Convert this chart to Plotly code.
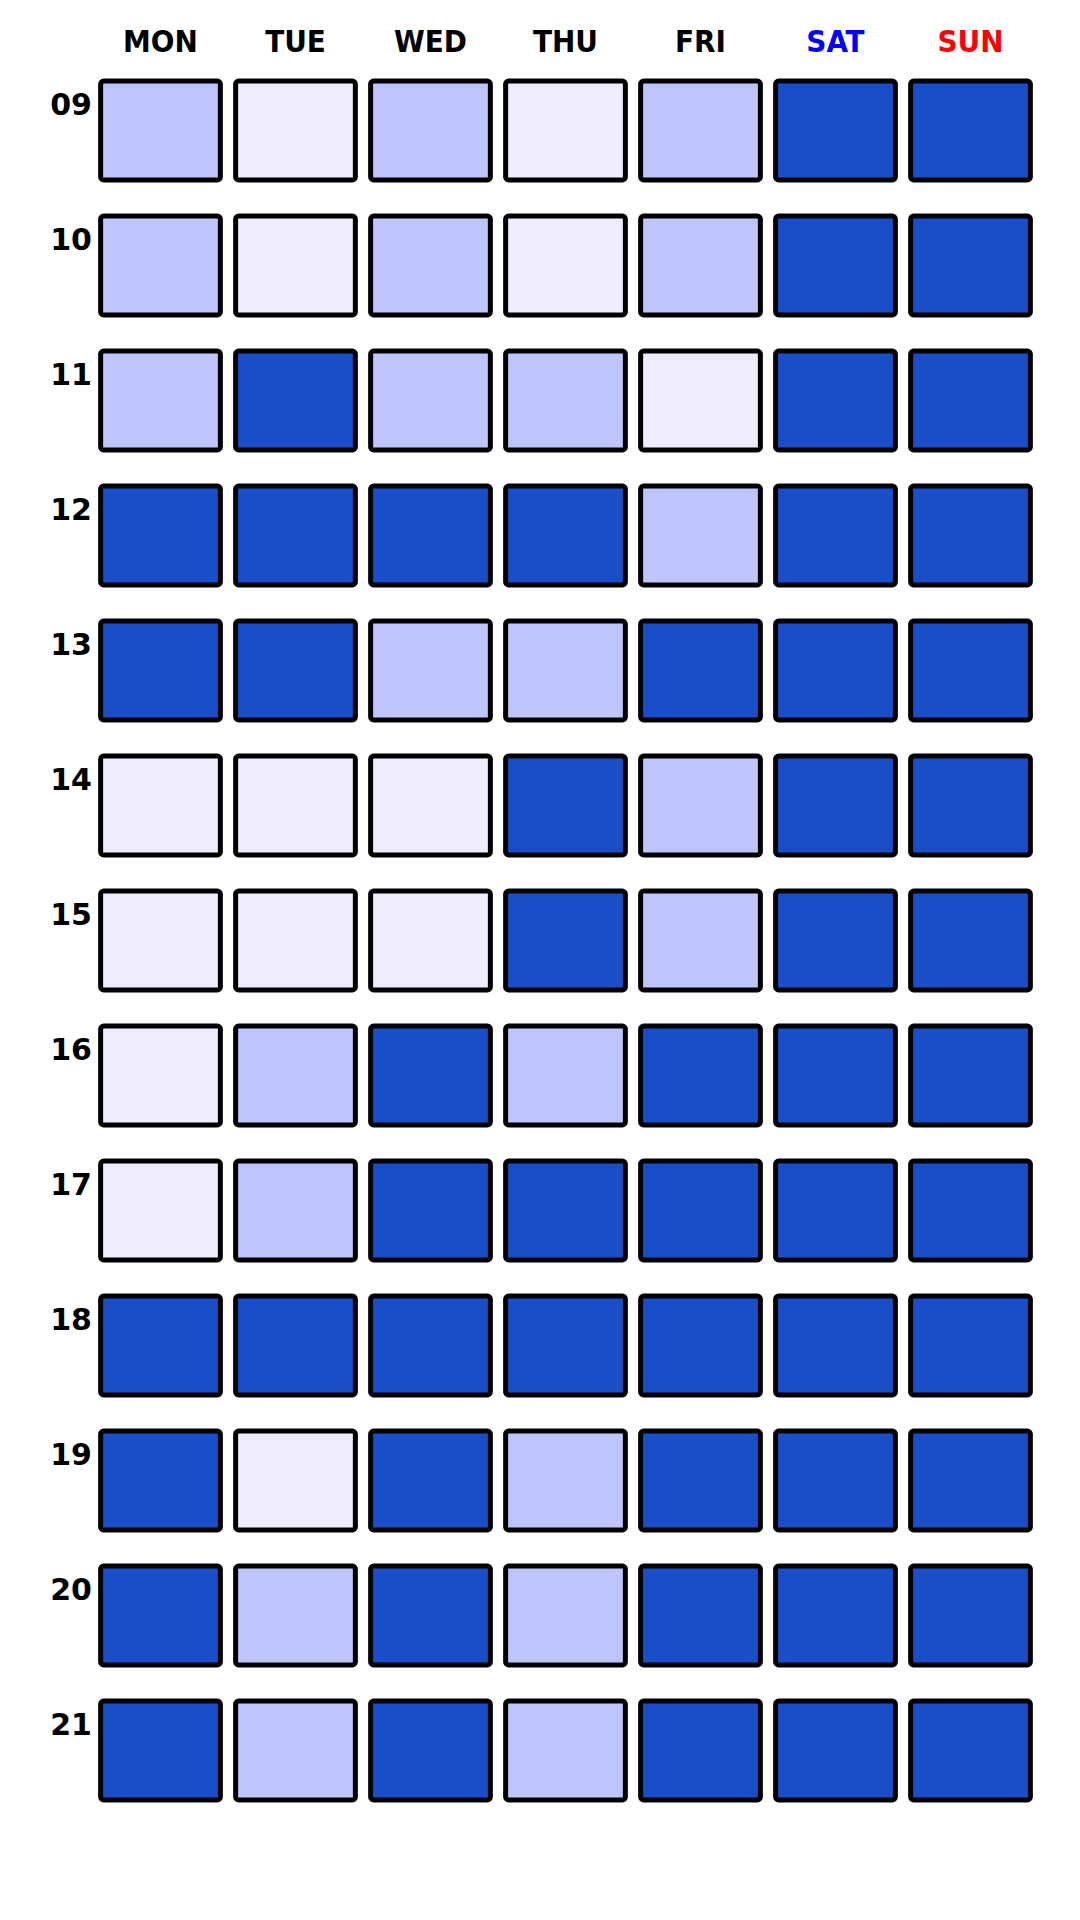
import plotly.graph_objects as go

days = ["MON", "TUE", "WED", "THU", "FRI", "SAT", "SUN"]
hours = ["09", "10", "11", "12", "13", "14", "15", "16", "17", "18", "19", "20", "21"]
# 0 = light, 1 = medium, 2 = dark
levels = [
    [1, 0, 1, 0, 1, 2, 2],
    [1, 0, 1, 0, 1, 2, 2],
    [1, 2, 1, 1, 0, 2, 2],
    [2, 2, 2, 2, 1, 2, 2],
    [2, 2, 1, 1, 2, 2, 2],
    [0, 0, 0, 2, 1, 2, 2],
    [0, 0, 0, 2, 1, 2, 2],
    [0, 1, 2, 1, 2, 2, 2],
    [0, 1, 2, 2, 2, 2, 2],
    [2, 2, 2, 2, 2, 2, 2],
    [2, 0, 2, 1, 2, 2, 2],
    [2, 1, 2, 1, 2, 2, 2],
    [2, 1, 2, 1, 2, 2, 2],
]
palette = ["#EFEDFD", "#BDC5FC", "#184FC9"]
day_colors = ["black", "black", "black", "black", "black", "#0000FF", "#FF0000"]

cell_h = 0.733
xs, bases, heights, cols = [], [], [], []
for r, row in enumerate(levels):
    for c, lv in enumerate(row):
        xs.append(days[c])
        bases.append(r - cell_h / 2)
        heights.append(cell_h)
        cols.append(palette[lv])

fig = go.Figure(go.Bar(
    x=xs, y=heights, base=bases, width=0.887,
    marker=dict(color=cols, line=dict(color="black", width=5), cornerradius=3),
    hoverinfo="skip",
))

fig.update_layout(
    width=1080, height=1920,
    margin=dict(l=85, r=50, t=55, b=110),
    paper_bgcolor="white", plot_bgcolor="white",
    showlegend=False,
)
fig.update_xaxes(
    type="category", categoryorder="array", categoryarray=days,
    side="top", range=[-0.5, 6.5], automargin=False,
    tickvals=days,
    ticktext=[f'<span style="color:{col}">{d}</span>' for d, col in zip(days, day_colors)],
    tickfont=dict(family="DejaVu Sans Condensed, sans-serif", size=31, color="black", weight="bold"),
    showgrid=False, zeroline=False, showline=False, ticks="",
    ticklabelstandoff=4,
)
fig.update_yaxes(
    range=[12.5, -0.5], automargin=False,
    tickvals=[i - 0.195 for i in range(len(hours))],
    ticktext=hours,
    tickfont=dict(family="DejaVu Sans", size=30, color="black", weight="bold"),
    showgrid=False, zeroline=False, showline=False, ticks="",
)

fig.write_html("out.html")
